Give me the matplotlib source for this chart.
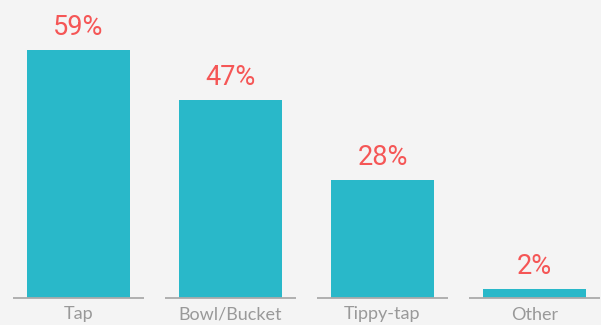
import matplotlib
matplotlib.use("Agg")
import matplotlib.pyplot as plt

categories = ["Tap", "Bowl/Bucket", "Tippy-tap", "Other"]
values = [59, 47, 28, 2]
value_labels = ["59%", "47%", "28%", "2%"]

BG = "#f4f4f4"
BAR = "#29b8c9"
RED = "#f55656"
GRAY = "#999999"

fig = plt.figure(figsize=(6.01, 3.25), dpi=100, facecolor=BG)
H = 325.0
W = 601.0
base_px = 297.5
ppu = 4.2
ax = fig.add_axes([0, (H - base_px) / H, 1, base_px / H])
ax.set_facecolor(BG)
x = list(range(len(categories)))
ax.bar(x, values, width=0.678, color=BAR, zorder=2)
ax.set_xlim(-78.5 / 152, (W - 78.5) / 152)
ax.set_ylim(0, base_px / ppu)
for s in ax.spines.values():
    s.set_visible(False)
ax.set_xticks([])
ax.set_yticks([])

for xi, v, lab, cat in zip(x, values, value_labels, categories):
    ax.plot([xi - 0.434, xi + 0.434], [0, 0], color="#aaaaaa", lw=1.3,
            solid_capstyle="butt", clip_on=False, zorder=3)
    ax.text(xi, v + 15 / ppu, lab, ha="center", va="baseline", color=RED,
            fontsize=19.5, family="Roboto")
    ax.text(xi, -17 / ppu, cat, ha="center", va="center", color=GRAY,
            fontsize=13, family="Lato", clip_on=False)

fig.savefig("out.png", dpi=100, facecolor=BG)
